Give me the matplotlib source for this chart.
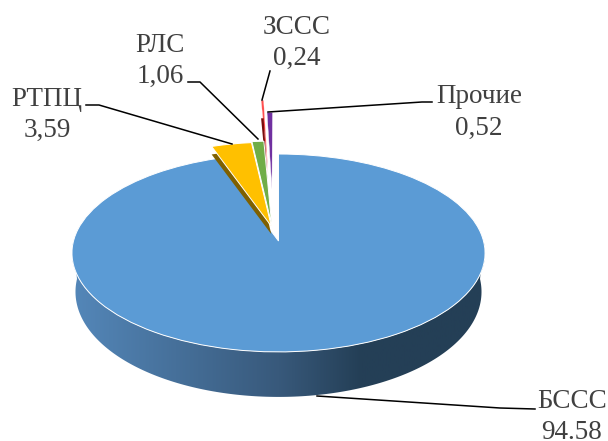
import numpy as np
import matplotlib
matplotlib.use("Agg")
import matplotlib.pyplot as plt
from matplotlib.patches import PathPatch, Wedge
from matplotlib.path import Path
from matplotlib.transforms import Affine2D, Transform
from matplotlib.colors import LinearSegmentedColormap

plt.rcParams['font.family'] = ['Liberation Serif', 'DejaVu Serif']

names = ["БССС", "РТПЦ", "РЛС", "ЗССС", "Прочие"]
values = [94.58, 3.59, 1.06, 0.24, 0.52]
value_labels = ["94.58", "3,59", "1,06", "0,24", "0,52"]
colors = ["#5B9BD5", "#FFC000", "#70AD47", "#FF5050", "#7030A0"]
explode = [0, 0.16, 0.17, 0.75, 0.57]
# sideways nudge of the small slices, in pie units
nudge = [0, 0.0, -0.02, -0.025, -0.025]

# picture is a tilted disc, so unit pie coords are pushed through a perspective
CX, CY = 278.5, 241
A, C, D = 97.5, 0.121, 205


class Tilt(Transform):
    input_dims = 2
    output_dims = 2

    def transform_non_affine(self, values):
        v = np.asarray(values, dtype=float)
        w = 1 + C * v[:, 1]
        return np.column_stack([CX + D * v[:, 0] / w, CY - A * v[:, 1] / w])


fig = plt.figure(figsize=(6.08, 4.41), dpi=100)
ax = fig.add_axes([0, 0, 1, 1])
wedges, _ = ax.pie(values, explode=explode, startangle=90, counterclock=False,
                   colors=colors, normalize=True,
                   wedgeprops=dict(edgecolor="white", linewidth=0.7))
ax.set_aspect("auto")
ax.set_xlim(0, 608)
ax.set_ylim(441, 0)
ax.axis("off")

tilt = Tilt()
for w, dx in zip(wedges, nudge):
    w.set_transform(tilt + ax.transData)
    cx, cy = w.center
    w.set_center((cx + dx, cy))
wedges[3].set_linewidth(0.2)
wedges[4].set_linewidth(0.3)

# side wall of the big slice
th = np.radians(np.linspace(180, 360, 200))
rim = tilt.transform_non_affine(np.column_stack([np.cos(th), np.sin(th)]))
low = rim.copy()
low[:, 0] = CX + (rim[:, 0] - CX) * 0.983
low[:, 1] = rim[:, 1] + 38 + 7 * np.abs(np.sin(th))
wall = Path(np.vstack([rim, low[::-1], rim[:1]]), closed=True)
wall_patch = PathPatch(wall, facecolor="none", edgecolor="none")
ax.add_patch(wall_patch)
cmap = LinearSegmentedColormap.from_list(
    "wall", [(0, "#5487B9"), (0.5, "#38597B"), (0.7, "#243F56"), (1, "#243F56")])
im = ax.imshow(np.linspace(0, 1, 256)[None, :], cmap=cmap, aspect="auto",
               extent=(72, 486, 441, 0), zorder=0.5)
im.set_clip_path(wall_patch)
ax.set_xlim(0, 608)
ax.set_ylim(441, 0)

# dark thickness showing under the yellow and red slices
for i, dy, col, z in [(1, 8, "#7F6000", 1.0), (3, 18, "#7A0C0C", 1.5)]:
    w = wedges[i]
    side = Wedge(w.center, w.r, w.theta1, w.theta2, facecolor=col, edgecolor="none",
                 transform=tilt + Affine2D().translate(0, dy) + ax.transData, zorder=z)
    ax.add_patch(side)
    w.set_zorder(z - 0.1 if i == 3 else z + 0.1)
wedges[0].set_zorder(0.9)
wedges[2].set_zorder(1.6)
wedges[4].set_zorder(1.7)

leaders = {
    "БССС": [(317, 396), (500, 408), (535, 409)],
    "РТПЦ": [(86, 105), (99, 105), (232, 144)],
    "РЛС": [(188, 82), (200, 82), (258, 139)],
    "ЗССС": [(270, 71), (262, 100)],
    "Прочие": [(432, 102), (422, 102), (268, 112)],
}
label_pos = {
    "БССС": (572, 417),
    "РТПЦ": (47, 115),
    "РЛС": (160, 61),
    "ЗССС": (297, 43),
    "Прочие": (479, 112.5),
}
for name, val in zip(names, value_labels):
    pts = np.array(leaders[name])
    ax.plot(pts[:, 0], pts[:, 1], color="black", lw=1.1, zorder=3)
    x, y = label_pos[name]
    ax.text(x, y, name + "\n" + val, ha="center", va="center", fontsize=19.5,
            linespacing=1.33, color="#404040", zorder=4)

fig.savefig("out.png", dpi=100)
